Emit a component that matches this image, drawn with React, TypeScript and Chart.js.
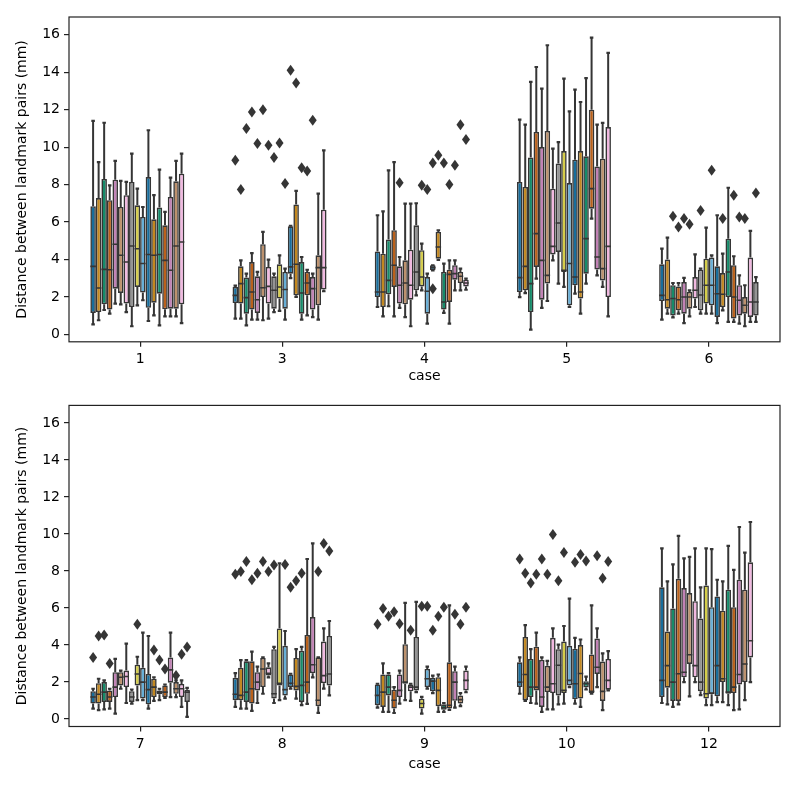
import React, { useEffect, useRef } from 'react';
import { Chart, registerables } from 'chart.js';

Chart.register(...registerables);

// seaborn "colorblind" palette, desaturated (saturation 0.75)
const PALETTE = ['#176d9c', '#c38820', '#168b6a', '#ba611b', '#c182b5', '#bd926e', '#f1b8e0', '#949494', '#d5cd4a', '#68afd7'];
const EDGE = '#353535';
const HUE_COUNT = 18;

const yTickValues = [0, 2, 4, 6, 8, 10, 12, 14, 16];
const topCases = ['1', '3', '4', '5', '6'];
const bottomCases = ['7', '8', '9', '10', '12'];

type Box = [number, number, number, number, number] | null; // [low whisker, q1, median, q3, high whisker]
type Flier = [number, number]; // [hue index, value]

const case1Boxes: Box[] = [
  [0.53, 1.14, 3.63, 6.84, 11.4], [0.75, 1.19, 2.47, 7.28, 9.2], [1.3, 1.6, 3.47, 8.3, 11.3],
  [1.1, 1.32, 3.45, 7.16, 7.96], [1.64, 2.44, 4.81, 8.26, 9.26], [1.6, 2.21, 4.22, 6.8, 8.2],
  [1.19, 1.64, 3.86, 7.43, 8.14], [0.43, 1.46, 4.72, 8.14, 9.65], [1.55, 2.53, 4.57, 6.89, 7.78],
  [1.82, 2.23, 3.78, 6.27, 6.8], [0.71, 1.42, 4.26, 8.4, 10.9], [1.01, 1.69, 4.22, 6.14, 7.43],
  [0.48, 2.17, 4.26, 6.77, 8.8], [0.96, 1.34, 3.95, 5.82, 6.54], [0.96, 1.37, 3.42, 7.34, 8.37],
  [0.96, 1.37, 4.72, 8.17, 9.26], [0.6, 1.6, 4.93, 8.58, 9.65], null,
];
const case3Boxes: Box[] = [
  [0.84, 1.67, 2.08, 2.53, 2.6], [0.84, 1.64, 2.71, 3.63, 3.95], [0.48, 1.1, 1.96, 3.03, 3.24],
  [0.78, 1.32, 2.26, 3.86, 4.34], [0.78, 1.14, 1.85, 3.1, 3.33], [0.75, 1.99, 2.49, 4.81, 5.47],
  [0.84, 1.64, 2.56, 3.6, 3.99], [1.19, 1.37, 2.35, 3.1, 3.24], [1.25, 1.91, 2.53, 3.74, 4.22],
  [0.78, 1.37, 2.39, 3.33, 3.51], [3.0, 3.24, 3.6, 5.77, 5.8], [2.0, 2.08, 3.74, 6.94, 7.66],
  [0.78, 1.1, 2.21, 3.86, 4.13], [1.01, 2.08, 2.74, 3.33, 3.45], [0.92, 1.32, 2.44, 3.06, 3.24],
  [0.78, 1.55, 3.56, 4.22, 7.51], [2.3, 2.39, 3.56, 6.66, 9.83], null,
];
const case4Boxes: Box[] = [
  [1.46, 1.99, 2.26, 4.43, 6.36], [0.96, 1.46, 2.26, 4.31, 6.57], [1.5, 2.14, 2.88, 5.06, 8.76],
  [0.96, 2.53, 3.69, 5.56, 9.2], [1.41, 1.64, 2.62, 3.63, 4.13], [0.92, 1.6, 2.74, 3.95, 6.98],
  [0.43, 1.85, 2.62, 4.52, 6.98], [2.08, 2.35, 3.33, 5.82, 7.0], [2.35, 2.56, 3.06, 4.49, 4.84],
  [0.57, 1.1, 2.3, 3.06, 3.24], [3.42, 3.42, 3.56, 3.69, 3.69], [3.97, 4.04, 4.66, 5.47, 5.56],
  [1.14, 1.32, 1.73, 3.33, 3.78], [0.57, 1.73, 3.2, 3.45, 3.95], [2.35, 2.92, 3.24, 3.69, 3.95],
  [2.35, 2.74, 3.1, 3.33, 3.51], [2.38, 2.56, 2.74, 2.92, 2.97], null,
];
const case5Boxes: Box[] = [
  [1.99, 2.26, 3.03, 8.14, 11.47], [2.2, 2.35, 3.63, 7.87, 11.2], [0.25, 1.19, 2.71, 9.44, 13.48],
  [2.97, 3.6, 5.38, 10.81, 14.28], [1.41, 1.85, 3.95, 10.0, 13.12], [1.78, 2.71, 3.15, 10.86, 15.44],
  [3.95, 4.27, 4.7, 7.78, 9.92], [2.71, 4.4, 5.95, 9.12, 10.27], [2.53, 3.33, 3.42, 9.79, 13.66],
  [1.46, 1.55, 3.78, 8.08, 11.91], [2.17, 2.62, 3.06, 9.33, 13.07], [1.1, 1.91, 2.26, 9.79, 12.41],
  [2.71, 3.24, 5.11, 9.51, 13.69], [6.18, 6.71, 7.78, 12.0, 15.85], [3.15, 3.46, 4.13, 8.97, 11.2],
  [2.53, 2.88, 3.51, 9.38, 11.29], [0.96, 1.99, 4.7, 11.07, 15.03], null,
];
const case6Boxes: Box[] = [
  [0.78, 1.78, 2.08, 3.74, 4.58], [1.1, 1.37, 1.85, 3.99, 5.16], [0.9, 1.01, 1.91, 2.62, 2.74],
  [1.1, 1.28, 1.85, 2.56, 2.74], [0.6, 1.1, 1.99, 2.79, 3.01], [0.96, 1.37, 1.99, 2.26, 2.35],
  [1.46, 1.91, 2.35, 3.06, 4.27], [1.1, 1.28, 2.1, 3.45, 3.51], [1.1, 1.64, 2.62, 4.04, 5.7],
  [1.1, 1.55, 2.62, 4.1, 4.22], [0.6, 0.93, 2.17, 3.63, 6.36], [1.28, 1.46, 2.14, 3.27, 4.31],
  [0.66, 1.99, 3.33, 5.11, 7.83], [0.66, 0.84, 1.99, 3.69, 4.17], [0.57, 1.01, 1.82, 2.62, 3.15],
  [0.43, 1.1, 1.55, 1.99, 2.62], [0.66, 0.93, 1.73, 4.1, 5.52], [0.66, 1.01, 1.73, 2.79, 3.06],
];
const case7Boxes: Box[] = [
  [0.57, 0.84, 1.19, 1.51, 1.64], [0.48, 0.84, 1.34, 1.94, 2.18], [0.52, 0.93, 1.46, 2.0, 2.09],
  [0.57, 0.93, 1.19, 1.55, 1.64], [0.3, 1.19, 1.73, 2.53, 3.25], [1.64, 1.81, 2.26, 2.53, 2.62],
  [0.87, 1.73, 2.3, 2.62, 4.08], [0.84, 0.93, 1.19, 1.51, 1.6], [1.02, 1.82, 2.44, 2.94, 3.37],
  [1.02, 1.11, 2.0, 2.77, 4.67], [0.57, 0.8, 1.59, 2.44, 4.49], [0.98, 1.19, 1.73, 2.18, 2.26],
  [1.02, 1.34, 1.46, 1.55, 1.64], [1.15, 1.19, 1.46, 1.82, 1.87], [1.19, 1.97, 2.66, 3.33, 4.67],
  [1.19, 1.37, 1.64, 2.0, 2.09], [0.66, 1.19, 1.64, 1.9, 2.09], [0.12, 0.93, 1.46, 1.59, 1.69],
];
const case8Boxes: Box[] = [
  [0.66, 1.02, 1.34, 2.23, 2.48], [0.57, 1.02, 1.28, 2.77, 3.19], [0.57, 0.93, 1.46, 3.12, 3.19],
  [0.44, 0.84, 1.64, 3.12, 3.65], [0.87, 1.55, 2.0, 2.53, 2.84], [1.37, 1.73, 2.71, 3.3, 3.33],
  [2.25, 2.35, 2.48, 2.8, 3.01], [0.87, 1.11, 1.37, 3.78, 3.9], [1.02, 1.82, 1.94, 4.9, 8.42],
  [1.11, 1.28, 1.59, 3.96, 4.76], [1.65, 1.73, 1.94, 2.41, 2.45], [1.11, 1.55, 1.77, 3.3, 3.78],
  [0.75, 0.93, 1.82, 3.69, 3.9], [0.82, 1.37, 2.0, 4.55, 8.65], [2.25, 2.48, 2.94, 5.51, 9.49],
  [0.34, 0.7, 1.02, 3.33, 3.33], [1.65, 1.94, 2.35, 4.19, 4.9], [1.28, 1.82, 2.44, 4.49, 5.3],
];
const case9Boxes: Box[] = [
  [0.62, 0.75, 1.28, 1.87, 1.91], [0.39, 0.66, 1.46, 2.41, 3.01], [0.39, 1.28, 1.73, 2.41, 2.48],
  [0.33, 0.57, 1.02, 1.59, 1.73], [0.84, 1.19, 1.55, 2.41, 2.62], [1.02, 1.91, 2.0, 4.05, 6.28],
  [0.99, 1.5, 1.73, 1.87, 1.91], [1.46, 1.55, 1.73, 4.44, 6.33], [0.3, 0.57, 0.84, 1.1, 1.2],
  [1.65, 1.73, 2.18, 2.71, 2.84], [1.4, 1.5, 2.05, 2.23, 2.35], [0.39, 0.7, 1.55, 2.26, 2.41],
  [0.39, 0.5, 0.62, 0.8, 0.87], [0.5, 0.57, 0.75, 3.07, 6.15], [0.62, 0.99, 2.0, 2.59, 2.84],
  [0.7, 0.84, 1.05, 1.28, 1.41], [1.45, 1.55, 2.09, 2.62, 2.84], null,
];
const case10Boxes: Box[] = [
  [1.37, 1.73, 2.0, 3.07, 3.33], [0.98, 1.02, 2.41, 4.44, 5.08], [0.87, 1.19, 1.73, 3.25, 3.78],
  [0.84, 1.55, 1.73, 3.91, 4.67], [0.39, 0.66, 1.19, 3.2, 3.33], [0.52, 1.46, 1.73, 2.88, 3.15],
  [0.52, 1.41, 1.91, 4.39, 4.9], [0.8, 1.28, 2.91, 3.78, 4.02], [0.84, 1.41, 1.55, 4.19, 5.03],
  [1.73, 1.82, 2.09, 3.96, 6.51], [0.84, 1.07, 1.91, 3.8, 4.39], [0.66, 1.11, 2.46, 4.0, 4.3],
  [1.6, 1.71, 1.91, 2.05, 2.3], [1.38, 1.41, 1.5, 3.49, 6.14], [1.73, 2.44, 2.8, 4.35, 4.9],
  [0.48, 0.98, 1.5, 3.11, 3.55], [1.55, 1.59, 2.09, 3.25, 3.67], null,
];
const case12Boxes: Box[] = [
  [0.87, 1.19, 2.09, 7.12, 9.22], [0.8, 1.7, 2.89, 4.73, 7.44], [0.66, 0.98, 2.0, 5.98, 8.36],
  [0.8, 0.98, 2.45, 7.58, 9.9], [2.0, 2.26, 2.53, 7.08, 8.68], [1.23, 2.98, 3.48, 6.81, 8.77],
  [2.0, 2.26, 2.89, 6.37, 9.22], [1.3, 1.51, 2.0, 5.44, 7.12], [0.75, 1.11, 1.37, 7.22, 9.22],
  [0.75, 1.34, 1.41, 6.05, 9.18], [0.92, 1.23, 2.89, 6.63, 7.53], [0.92, 2.0, 2.18, 5.86, 7.44],
  [0.75, 1.37, 1.46, 6.99, 9.36], [0.48, 1.41, 1.73, 6.05, 8.06], [0.52, 1.87, 2.41, 7.53, 10.38],
  [1.02, 2.0, 2.98, 6.99, 9.0], [2.0, 3.33, 4.23, 8.47, 10.65], null,
];

const case1Fliers: Flier[] = [];
const case3Fliers: Flier[] = [[0, 9.3], [1, 7.73], [2, 10.99], [3, 11.88], [4, 10.19], [5, 12.0], [6, 10.1], [7, 9.44], [8, 10.22], [9, 8.05], [10, 14.1], [11, 13.42], [12, 8.9], [13, 8.72], [14, 11.43]];
const case4Fliers: Flier[] = [[4, 8.1], [8, 7.96], [9, 7.73], [10, 2.44], [10, 9.15], [11, 9.56], [12, 9.15], [13, 8.0], [14, 9.03], [15, 11.2], [16, 10.4]];
const case5Fliers: Flier[] = [];
const case6Fliers: Flier[] = [[2, 6.3], [3, 5.73], [4, 6.18], [5, 5.88], [7, 6.62], [9, 8.76], [11, 6.18], [13, 7.43], [14, 6.27], [15, 6.18], [17, 7.55]];
const case7Fliers: Flier[] = [[0, 3.33], [1, 4.49], [2, 4.55], [3, 3.01], [8, 5.12], [11, 3.73], [12, 3.19], [13, 2.71], [15, 2.35], [16, 3.51], [17, 3.9]];
const case8Fliers: Flier[] = [[0, 7.83], [1, 7.97], [2, 8.51], [3, 7.53], [4, 7.88], [5, 8.51], [6, 7.97], [7, 8.33], [9, 8.36], [10, 7.12], [11, 7.47], [12, 7.88], [15, 7.97], [16, 9.49], [17, 9.08]];
const case9Fliers: Flier[] = [[0, 5.12], [1, 5.98], [2, 5.56], [3, 5.8], [4, 5.15], [6, 4.8], [8, 6.1], [9, 6.1], [10, 4.8], [11, 5.56], [12, 6.05], [14, 5.66], [15, 5.12], [16, 6.05]];
const case10Fliers: Flier[] = [[0, 8.65], [1, 7.88], [2, 7.35], [3, 7.83], [4, 8.65], [5, 7.83], [6, 9.97], [7, 7.47], [8, 9.0], [10, 8.47], [11, 8.9], [12, 8.54], [14, 8.83], [15, 7.61], [16, 8.51]];
const case12Fliers: Flier[] = [];

const topBoxes = [case1Boxes, case3Boxes, case4Boxes, case5Boxes, case6Boxes];
const topFliers = [case1Fliers, case3Fliers, case4Fliers, case5Fliers, case6Fliers];
const bottomBoxes = [case7Boxes, case8Boxes, case9Boxes, case10Boxes, case12Boxes];
const bottomFliers = [case7Fliers, case8Fliers, case9Fliers, case10Fliers, case12Fliers];

const FONT = { family: 'DejaVu Sans', size: 14 };

interface PanelProps {
  cases: string[];
  boxes: Box[][];
  fliers: Flier[][];
  padTop: number;
  axisHeight: number;
  titlePad: number;
}

function BoxPanel({ cases, boxes, fliers, padTop, axisHeight, titlePad }: PanelProps) {
  const ref = useRef<HTMLCanvasElement>(null);
  useEffect(() => {
    if (!ref.current) return;
    const datasets = Array.from({ length: HUE_COUNT }, (_, j) => ({
      label: 'h' + j,
      data: boxes.map((c) => (c[j] ? [c[j]![1], c[j]![3]] : null)),
      backgroundColor: PALETTE[j % 10],
      borderColor: EDGE,
      borderWidth: 1.6,
      borderSkipped: false as const,
      categoryPercentage: 0.7,
      barPercentage: 1.0,
    }));

    const boxParts = {
      id: 'boxParts',
      afterDatasetsDraw(chart: any) {
        const ctx = chart.ctx as CanvasRenderingContext2D;
        const ys = chart.scales.y;
        const area = chart.chartArea;
        ctx.save();
        ctx.beginPath();
        ctx.rect(area.left, area.top, area.right - area.left, area.bottom - area.top);
        ctx.clip();
        ctx.strokeStyle = EDGE;
        ctx.fillStyle = EDGE;
        ctx.lineCap = 'butt';
        const line = (x1: number, y1: number, x2: number, y2: number, lw: number) => {
          ctx.lineWidth = lw;
          ctx.beginPath();
          ctx.moveTo(x1, y1);
          ctx.lineTo(x2, y2);
          ctx.stroke();
        };
        for (let j = 0; j < HUE_COUNT; j++) {
          const meta = chart.getDatasetMeta(j);
          for (let i = 0; i < boxes.length; i++) {
            const b = boxes[i][j];
            if (!b) continue;
            const el = meta.data[i];
            const x = el.x;
            const w = el.width;
            const [lo, q1, med, q3, hi] = b;
            line(x, ys.getPixelForValue(q3), x, ys.getPixelForValue(hi), 2);
            line(x, ys.getPixelForValue(q1), x, ys.getPixelForValue(lo), 2);
            line(x - w * 0.32, ys.getPixelForValue(hi), x + w * 0.32, ys.getPixelForValue(hi), 2.2);
            line(x - w * 0.32, ys.getPixelForValue(lo), x + w * 0.32, ys.getPixelForValue(lo), 2.2);
            line(x - w / 2, ys.getPixelForValue(med), x + w / 2, ys.getPixelForValue(med), 1.6);
          }
        }
        for (let i = 0; i < fliers.length; i++) {
          for (const [j, v] of fliers[i]) {
            const el = chart.getDatasetMeta(j).data[i];
            const x = el.x;
            const y = ys.getPixelForValue(v);
            ctx.beginPath();
            ctx.moveTo(x, y - 5.5);
            ctx.lineTo(x + 4, y);
            ctx.lineTo(x, y + 5.5);
            ctx.lineTo(x - 4, y);
            ctx.closePath();
            ctx.fill();
          }
        }
        ctx.restore();
        ctx.save();
        ctx.strokeStyle = '#222';
        ctx.lineWidth = 1.2;
        ctx.strokeRect(area.left, area.top, area.right - area.left, area.bottom - area.top);
        ctx.restore();
      },
    };

    const chart = new Chart(ref.current, {
      type: 'bar',
      data: { labels: cases, datasets },
      options: {
        animation: false,
        responsive: false,
        devicePixelRatio: 1,
        layout: { padding: { top: padTop, left: 0, right: 20, bottom: 0 } },
        plugins: { legend: { display: false }, tooltip: { enabled: false } },
        scales: {
          x: {
            type: 'category',
            offset: true,
            grid: { display: true, drawOnChartArea: false, drawTicks: true, tickLength: 5, color: '#222', lineWidth: 1.2, offset: false },
            border: { display: false },
            ticks: { font: FONT, color: '#000', padding: 4, maxRotation: 0 },
            title: { display: true, text: 'case', font: FONT, color: '#000', padding: { top: 0, bottom: titlePad } },
            afterFit: (s: any) => { s.height = axisHeight; },
          },
          y: {
            type: 'linear',
            min: -0.4,
            max: 16.95,
            grid: { display: true, drawOnChartArea: false, drawTicks: true, tickLength: 5, color: '#222', lineWidth: 1.2 },
            border: { display: false },
            afterBuildTicks: (s: any) => { s.ticks = yTickValues.map((v) => ({ value: v })); },
            ticks: { font: FONT, color: '#000', padding: 4 },
            title: { display: true, text: 'Distance between landmark pairs (mm)', font: FONT, color: '#000', padding: { top: 14, bottom: 0 } },
            afterFit: (s: any) => { s.width = 69; },
          },
        },
      },
      plugins: [boxParts],
    });
    return () => chart.destroy();
  }, []);
  return <canvas ref={ref} width={800} height={393} style={{ display: 'block', width: 800, height: 393 }} />;
}

export default function App() {
  return (
    <div style={{ position: 'fixed', left: 0, top: 0, width: 800, height: 786, background: '#fff' }}>
      <BoxPanel cases={topCases} boxes={topBoxes} fliers={topFliers} padTop={17} axisHeight={51.2} titlePad={8} />
      <BoxPanel cases={bottomCases} boxes={bottomBoxes} fliers={bottomFliers} padTop={9} axisHeight={59.5} titlePad={13} />
    </div>
  );
}
